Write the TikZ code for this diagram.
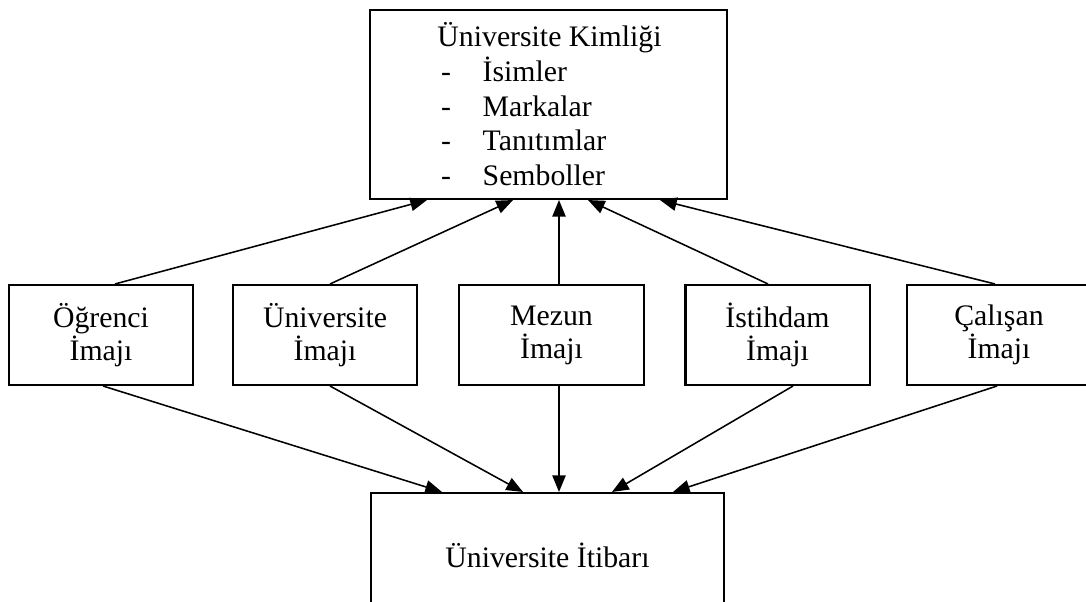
\documentclass[tikz,border=0pt]{standalone}
\usepackage{fontspec}
\setmainfont{Liberation Serif}
\usetikzlibrary{arrows.meta,calc}

\begin{document}
\begin{tikzpicture}[x=0.42pt,y=-0.42pt,
  kutu/.style={rectangle,draw=black,line width=0.85pt,inner sep=0,minimum width=77.3pt,minimum height=42pt,align=center,font=\fontsize{12.5}{13.9}\selectfont},
  ok/.style={-{Triangle[length=7pt,width=5.6pt]},line width=0.65pt}]
 \useasboundingbox (0,0) rectangle (1086,602);
 \clip (0,0) rectangle (1086,602);
 \node[kutu,minimum width=150pt,minimum height=79.4pt] (kimlik) at (548.5,104.5) {};
 \node[anchor=base west,inner sep=0,font=\fontsize{12.5}{14.5}\selectfont] (kimlikyazi) at (437,46.7)
  {\begin{tabular}[t]{@{}p{19pt}@{}l@{}}
   \multicolumn{2}{@{}l@{}}{Üniversite Kimliği}\\
   \hspace{1.5pt}- & İsimler\\
   \hspace{1.5pt}- & Markalar\\
   \hspace{1.5pt}- & Tanıtımlar\\
   \hspace{1.5pt}- & Semboller
  \end{tabular}};
 \begin{scope}[every node/.style={kutu}]
  \node (ogr) at (101,335) {Öğrenci\\İmajı};
  \node (uni) at (325,335) {Üniversite\\İmajı};
  \node (mezun) at (551.5,335) {Mezun\\İmajı};
  \node (istihdam) at (777.5,335) {İstihdam\\İmajı};
  \node (calisan) at (999,335) {Çalışan\\İmajı};
  \node[minimum width=148.3pt,minimum height=52.5pt] (itibar) at (547.5,555.5) {Üniversite İtibarı};
 \end{scope}
 \draw[ok] ($(ogr.north)+(14,0)$) -- ($(kimlik.south)+(-121.5,0)$);
 \draw[ok] ($(uni.north)+(5,0)$) -- ($(kimlik.south)+(-35.5,0)$);
 \draw[ok] ($(mezun.north)+(7.5,0)$) -- ($(kimlik.south)+(10.5,0)$);
 \draw[ok] ($(istihdam.north)+(-9.5,0)$) -- ($(kimlik.south)+(39.5,0)$);
 \draw[ok] ($(calisan.north)+(-4,0)$) -- ($(kimlik.south)+(111.5,0)$);
 \draw[ok] ($(ogr.south)+(2,0)$) -- ($(itibar.north)+(-105.5,0)$);
 \draw[ok] ($(uni.south)+(5,0)$) -- ($(itibar.north)+(-24.5,0)$);
 \draw[ok] ($(mezun.south)+(7.5,0)$) -- ($(itibar.north)+(11.5,0)$);
 \draw[ok] ($(istihdam.south)+(15.5,0)$) -- ($(itibar.north)+(64.5,0)$);
 \draw[ok] ($(calisan.south)+(-2,0)$) -- ($(itibar.north)+(125.5,0)$);
\end{tikzpicture}
\end{document}
